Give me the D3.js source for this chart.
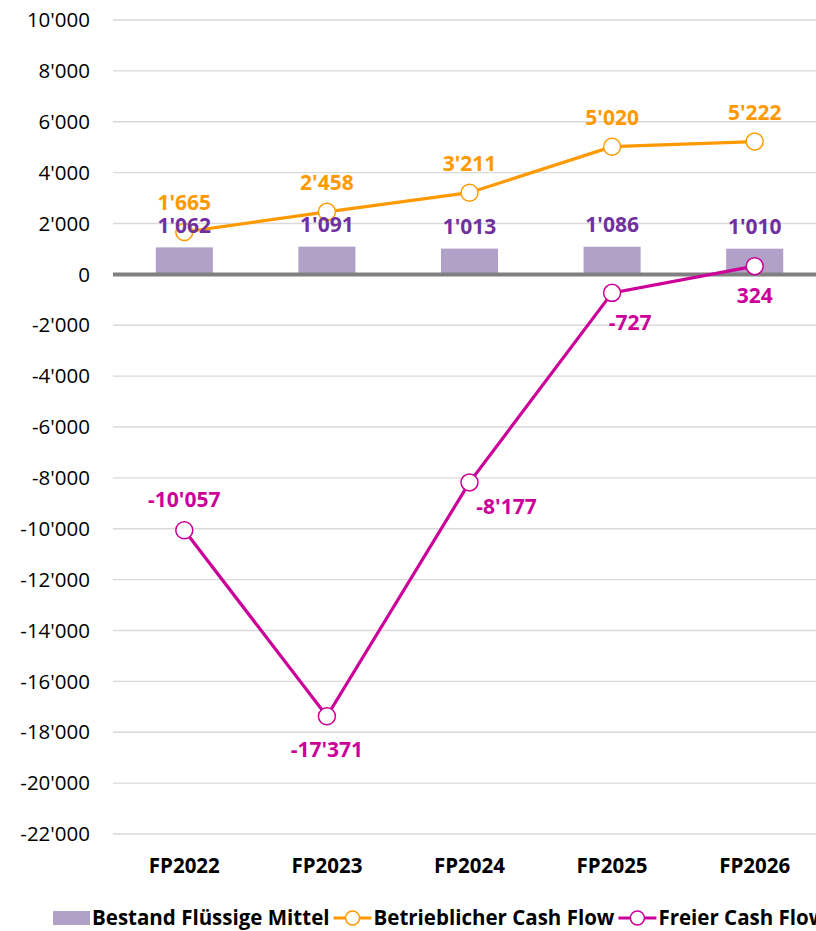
<!DOCTYPE html>
<html>
<head>
<meta charset="utf-8">
<script src="https://cdn.jsdelivr.net/npm/d3@7"></script>
<style>
  body { margin: 0; background: #fff; }
  svg { font-family: "Open Sans", "Noto Sans", sans-serif; }
</style>
</head>
<body>
<svg id="chart" width="816" height="931"></svg>
<script>
// data
const years = ["FP2022", "FP2023", "FP2024", "FP2025", "FP2026"];
const bestand = [1062, 1091, 1013, 1086, 1010];
const betrieblich = [1665, 2458, 3211, 5020, 5222];
const freier = [-10057, -17371, -8177, -727, 324];
const yTicks = d3.range(-22000, 10001, 2000);
const legendNames = ["Bestand Flüssige Mittel", "Betrieblicher Cash Flow", "Freier Cash Flow"];

const svg = d3.select("#chart");
const plotLeft = 113, plotRight = 826, plotTop = 20, plotBottom = 834;

const x = d3.scaleBand().domain(years).range([plotLeft, plotRight]).paddingInner(0.6).paddingOuter(0.3);
const y = d3.scaleLinear().domain([-22000, 10000]).range([plotBottom, plotTop]);

const fmt = v => (v < 0 ? "-" : "") + d3.format(",")(Math.abs(v)).replace(/,/g, "'");
const cx = d => x(d) + x.bandwidth() / 2;

const C_BAR = "#b1a0c7", C_PURPLE = "#7030a0", C_ORANGE = "#ff9900", C_MAG = "#cc0099";

// gridlines
svg.append("g").selectAll("line")
  .data(yTicks.filter(t => t !== 0))
  .join("line")
  .attr("x1", plotLeft).attr("x2", 816)
  .attr("y1", d => y(d)).attr("y2", d => y(d))
  .attr("stroke", "#d9d9d9").attr("stroke-width", 1.3);

// y axis labels
svg.append("g").selectAll("text")
  .data(yTicks)
  .join("text")
  .attr("x", 90).attr("y", d => y(d))
  .attr("dy", "0.35em")
  .attr("text-anchor", "end")
  .style("font-size", "20.5px")
  .attr("fill", "#000")
  .text(d => fmt(d));

// bars
svg.append("g").selectAll("rect")
  .data(bestand)
  .join("rect")
  .attr("x", (d, i) => x(years[i]))
  .attr("width", x.bandwidth())
  .attr("y", d => y(d))
  .attr("height", d => y(0) - y(d))
  .attr("fill", C_BAR);

// zero line
svg.append("line")
  .attr("x1", plotLeft).attr("x2", 816)
  .attr("y1", y(0)).attr("y2", y(0))
  .attr("stroke", "#808080").attr("stroke-width", 4);

// category labels
svg.append("g").selectAll("text")
  .data(years)
  .join("text")
  .attr("x", d => cx(d)).attr("y", 866)
  .attr("dy", "0.35em")
  .attr("text-anchor", "middle")
  .style("font-size", "20.5px").style("font-weight", "bold")
  .text(d => d);

const line = d3.line().x((d, i) => cx(years[i])).y(d => y(d));

function drawSeries(vals, color) {
  const g = svg.append("g");
  g.append("path").datum(vals)
    .attr("d", line)
    .attr("fill", "none").attr("stroke", color).attr("stroke-width", 3.2);
  g.selectAll("circle").data(vals).join("circle")
    .attr("cx", (d, i) => cx(years[i])).attr("cy", d => y(d))
    .attr("r", 8.5)
    .attr("fill", "#fff").attr("stroke", color).attr("stroke-width", 1.5);
}
drawSeries(betrieblich, C_ORANGE);
drawSeries(freier, C_MAG);

const labelSize = "21px";

// bar labels
svg.append("g").selectAll("text")
  .data(bestand).join("text")
  .attr("x", (d, i) => cx(years[i])).attr("y", d => y(d) - 22)
  .attr("dy", "0.35em").attr("text-anchor", "middle")
  .style("font-size", labelSize).style("font-weight", "bold")
  .attr("fill", C_PURPLE)
  .text(d => fmt(d));

// orange labels (above)
svg.append("g").selectAll("text")
  .data(betrieblich).join("text")
  .attr("x", (d, i) => cx(years[i])).attr("y", d => y(d) - 29)
  .attr("dy", "0.35em").attr("text-anchor", "middle")
  .style("font-size", labelSize).style("font-weight", "bold")
  .attr("fill", C_ORANGE)
  .text(d => fmt(d));

// magenta labels, offsets per point
const freierOff = [[0, -31], [0, 33], [37, 24], [18, 30], [0, 30]];
svg.append("g").selectAll("text")
  .data(freier).join("text")
  .attr("x", (d, i) => cx(years[i]) + freierOff[i][0])
  .attr("y", (d, i) => y(d) + freierOff[i][1])
  .attr("dy", "0.35em").attr("text-anchor", "middle")
  .style("font-size", labelSize).style("font-weight", "bold")
  .attr("fill", C_MAG)
  .text(d => fmt(d));

// legend
const lg = svg.append("g").style("font-size", "20.5px").style("font-weight", "bold");
const ly = 918;
lg.append("rect").attr("x", 53).attr("y", ly - 7).attr("width", 37).attr("height", 14).attr("fill", C_BAR);
const t1 = lg.append("text").attr("x", 92).attr("y", ly).attr("dy", "0.35em").text(legendNames[0]);
let lx = 92 + t1.node().getComputedTextLength() + 4;
[[C_ORANGE, legendNames[1]], [C_MAG, legendNames[2]]].forEach(([c, name]) => {
  lg.append("line").attr("x1", lx).attr("x2", lx + 38).attr("y1", ly).attr("y2", ly)
    .attr("stroke", c).attr("stroke-width", 3.2);
  lg.append("circle").attr("cx", lx + 19).attr("cy", ly).attr("r", 7)
    .attr("fill", "#fff").attr("stroke", c).attr("stroke-width", 1.5);
  const t = lg.append("text").attr("x", lx + 40).attr("y", ly).attr("dy", "0.35em").text(name);
  lx += 40 + t.node().getComputedTextLength() + 4;
});
</script>
</body>
</html>
